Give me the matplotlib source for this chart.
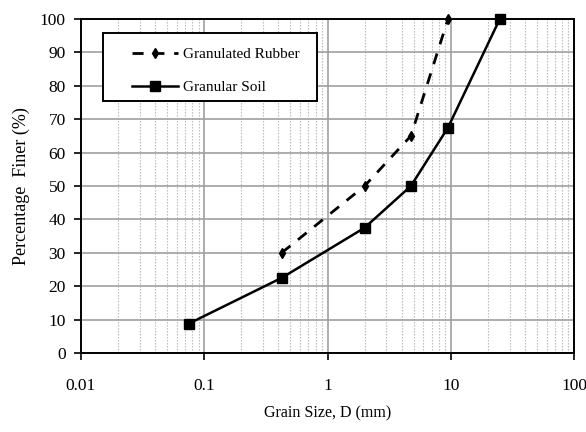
import matplotlib
matplotlib.use("Agg")
import matplotlib.pyplot as plt
from matplotlib.patches import Rectangle
from matplotlib.ticker import LogLocator, FixedLocator, NullFormatter

plt.rcParams['font.family'] = ['Liberation Serif', 'DejaVu Serif']

# Particle size distribution data
rubber_size = [0.425, 2.0, 4.75, 9.5]
rubber_finer = [30, 50, 65, 100]
soil_size = [0.075, 0.425, 2.0, 4.75, 9.5, 25.0]
soil_finer = [8.8, 22.5, 37.5, 50, 67.5, 100]

x_ticks = [0.01, 0.1, 1, 10, 100]
x_tick_labels = ["0.01", "0.1", "1", "10", "100"]
y_ticks = list(range(0, 101, 10))

fig = plt.figure(figsize=(5.86, 4.32), dpi=100)
ax = fig.add_axes([81 / 586, 79 / 432, 493 / 586, 334 / 432])

ax.set_xscale('log')
ax.set_xlim(0.01, 100)
ax.set_ylim(0, 100)

# grid: solid grey majors, dotted grey minors on the log axis
ax.xaxis.set_major_locator(FixedLocator(x_ticks))
ax.set_xticklabels(x_tick_labels)
ax.xaxis.set_minor_locator(LogLocator(base=10, subs=range(2, 10)))
ax.xaxis.set_minor_formatter(NullFormatter())
ax.set_yticks(y_ticks)
ax.grid(True, which='major', color='#a0a0a0', linewidth=1.2, linestyle='-')
ax.grid(True, which='minor', axis='x', color='#b4b4b4', linewidth=0.8,
        linestyle=(0, (1.2, 1.5)))
ax.set_axisbelow(True)

ax.plot(rubber_size, rubber_finer, color='black', linestyle=(0, (4, 3.5)),
        linewidth=2.0, marker='d', markersize=5.5, label='Granulated Rubber',
        clip_on=False)
ax.plot(soil_size, soil_finer, color='black', linestyle='-', linewidth=1.8,
        marker='s', markersize=7, label='Granular Soil', clip_on=False)

for s in ax.spines.values():
    s.set_color('black')
    s.set_linewidth(1.4)

ax.tick_params(axis='x', which='major', direction='out', length=5, width=1.2,
               pad=13, labelsize=12.5)
ax.tick_params(axis='x', which='minor', length=0)
ax.tick_params(axis='y', which='major', direction='out', length=5, width=1.2,
               pad=6, labelsize=12.5)

ax.set_xlabel('Grain Size, D (mm)', fontsize=11.5, labelpad=8)
ax.set_ylabel('Percentage  Finer (%)', fontsize=13, labelpad=7)

# legend box drawn as its own framed rectangle, entries placed inside it
box = Rectangle((0.0446, 0.754), 0.434, 0.2036, transform=ax.transAxes,
                facecolor='white', edgecolor='black', linewidth=1.4, zorder=4)
ax.add_patch(box)
leg = ax.legend(loc='upper left', bbox_to_anchor=(0.104, 0.915), fontsize=11,
                frameon=False, borderpad=0, labelspacing=1.25,
                handlelength=3.0, handletextpad=0.3, borderaxespad=0)
leg.set_zorder(5)

fig.savefig('out.png', dpi=100)
